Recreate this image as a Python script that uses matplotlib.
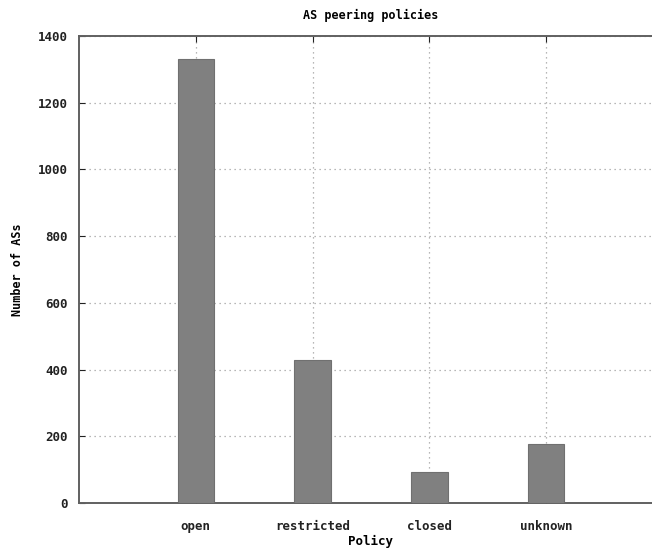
import numpy as np
import matplotlib.pyplot as plt

categories = ['open', 'restricted', 'closed', 'unknown']
counts = [1332, 430, 92, 177]

plt.rcParams['font.family'] = 'DejaVu Sans Mono'
plt.rcParams['font.weight'] = 'bold'

fig = plt.figure(figsize=(6.52, 5.5), dpi=100)
ax = fig.add_axes([0.121, 0.0855, 0.896, 0.849])

x = np.arange(1, len(categories) + 1)
ax.bar(x, counts, width=0.31, color='#808080', edgecolor='#707070', linewidth=0.8, zorder=3)

ax.set_xlim(0, 5)
ax.set_ylim(0, 1400)
ax.set_xticks(x)
ax.set_xticklabels(categories)
ax.set_yticks(np.arange(0, 1401, 200))

ax.grid(True, linestyle=(0, (1, 3)), color='#a0a0a0', linewidth=0.9, zorder=0)
ax.tick_params(direction='in', length=4, labelsize=9, colors='#222222', width=0.8)
ax.tick_params(axis='x', pad=12, top=True)
ax.tick_params(axis='y', pad=8, right=True)
for s in ax.spines.values():
    s.set_color('#606060')
    s.set_linewidth(1.4)

ax.set_title('AS peering policies', fontsize=8.5, fontweight='bold', pad=12)
ax.set_xlabel('Policy', fontsize=9, fontweight='bold', labelpad=2)
ax.set_ylabel('Number of ASs', fontsize=8.5, fontweight='bold', labelpad=10)

fig.savefig('out.png', dpi=100)
